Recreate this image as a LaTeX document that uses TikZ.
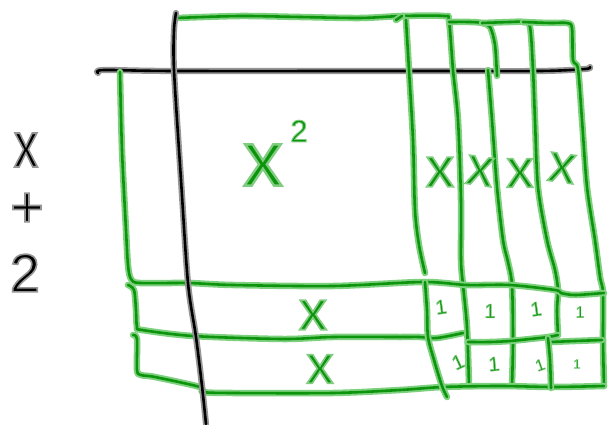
\documentclass[tikz,border=0pt]{standalone}
\usepackage{fontspec}
\setmainfont{Liberation Sans}
\newfontfamily\handfont{Liberation Sans}[FakeBold=3]
\newcommand{\ghtext}[1]{{\handfont\special{pdf:bcolor [0.05 0.58 0.05] [0.5 0.8 0.5]}#1\special{pdf:ecolor}}}
\newcommand{\khtext}[1]{{\handfont\special{pdf:bcolor [0 0 0] [0.58 0.58 0.58]}#1\special{pdf:ecolor}}}
\definecolor{gcore}{RGB}{12,148,12}
\definecolor{ghalo}{RGB}{125,208,125}
\definecolor{khalo}{RGB}{150,150,150}
\begin{document}
\begin{tikzpicture}[x=1pt,y=-1pt,
  gline/.style={draw=gcore,line width=2.6pt,line cap=round,line join=round,
    preaction={draw=ghalo,line width=6.5pt,line cap=round,line join=round}},
  kline/.style={draw=black,line width=2.6pt,line cap=round,line join=round,
    preaction={draw=khalo,line width=6.2pt,line cap=round,line join=round}},
  glab/.style={inner sep=0pt,text=gcore},
  klab/.style={inner sep=0pt,text=black}]
\fill[white] (0,0) rectangle (608,425);
\useasboundingbox (0,0) rectangle (608,425);

% black horizontal axis
\draw[kline] plot[smooth] coordinates {(98,73) (104,70) (175,71) (420,71) (540,71) (585,69) (590,67)};

% square top edge and line B
\draw[gline] plot[smooth,tension=0.5] coordinates {(176,18) (240,16) (300,17) (360,18) (402,16) (444,16) (449,21) (453,70) (458,120) (461,200) (461,260) (463,285) (467,327) (469,385)};
\draw[gline] (402,16) -- (396,20);
% line A
\draw[gline] plot[smooth] coordinates {(406,20) (409,70) (413,140) (415,210) (419,245) (425,273)};
% strip top 2 and line C upper
\draw[gline] plot[smooth,tension=0.5] coordinates {(449,22) (470,22) (482,23) (490,27) (495,45) (497,76)};
% line C lower
\draw[gline] plot[smooth] coordinates {(488,70) (492,120) (497,187) (503,240) (508,262) (512,285) (513,340) (512,386)};
% strip top 3 and line D
\draw[gline] plot[smooth,tension=0.5] coordinates {(482,23) (510,22) (523,22) (530,27) (533,70) (535,120) (538,187) (547,240) (555,270) (558,290) (557,310) (558,335)};
% strip top 4 and line E
\draw[gline] plot[smooth,tension=0.5] coordinates {(523,22) (550,23) (567,23) (572,28) (573,60) (578,69) (582,120) (587,187) (595,240) (600,277) (603,293) (603,340) (604,386)};

% left edge, square bottom, row 1 top
\draw[gline] plot[smooth,tension=0.5] coordinates {(120,72) (122,150) (126,230) (128,265) (131,279) (140,283) (188,283) (233,285) (333,286) (423,282) (467,285) (510,285) (555,290) (561,293) (575,295) (604,293)};
% row 1 left edge and middle line
\draw[gline] plot[smooth,tension=0.5] coordinates {(128,285) (134,290) (136,310) (137,327) (142,330) (193,336) (283,339) (333,337) (400,337) (420,337) (437,338) (463,333)};
% cells middle lines
\draw[gline] plot[smooth,tension=0.5] coordinates {(468,342) (490,342) (510,341) (530,339) (548,337) (558,335)};
\draw[gline] plot[smooth,tension=0.5] coordinates {(551,342) (575,341) (602,340)};
% row 2 left edge and bottom line
\draw[gline] plot[smooth,tension=0.5] coordinates {(133,335) (137,339) (137,370) (141,375) (155,377) (200,387) (203,392) (233,393) (333,393) (400,390) (443,387) (500,386) (553,387) (604,386)};
% divider between x rows and unit cells
\draw[gline] plot[smooth] coordinates {(425,282) (427,310) (428,337) (434,360) (442,386) (447,397)};
% lower cell vertical
\draw[gline] plot[smooth] coordinates {(548,338) (550,360) (551,388)};

% black vertical axis
\draw[kline] plot[smooth] coordinates {(176,13) (174,30) (174,70) (181,180) (188,283) (196,337) (202,386) (206,424)};

% left labels
\node[klab,font=\fontsize{64}{64}\selectfont,xscale=0.75] (lx) at (26,150) {\khtext{x}};
\node[klab,font=\fontsize{58}{58}\selectfont] (lplus) at (27,210) {\khtext{+}};
\node[klab,font=\fontsize{54}{54}\selectfont] (ltwo) at (25,273) {\khtext{2}};

% square label
\node[glab,font=\fontsize{78}{78}\selectfont] (xsq) at (263,165) {\ghtext{x}};
\node[glab,font=\fontsize{31}{31}\selectfont] (xsqexp) at (299,131) {\ghtext{2}};

% strip labels
\node[glab,font=\fontsize{56}{56}\selectfont] (sx1) at (440,172) {\ghtext{x}};
\node[glab,font=\fontsize{54}{54}\selectfont,rotate=-8] (sx2) at (480,171) {\ghtext{x}};
\node[glab,font=\fontsize{54}{54}\selectfont] (sx3) at (520,173) {\ghtext{x}};
\node[glab,font=\fontsize{54}{54}\selectfont,rotate=-8] (sx4) at (562,168) {\ghtext{x}};

% row labels
\node[glab,font=\fontsize{56}{56}\selectfont] (rx1) at (313,315) {\ghtext{x}};
\node[glab,font=\fontsize{54}{54}\selectfont] (rx2) at (320,369) {\ghtext{x}};

% unit cells
\node[glab,font=\fontsize{20}{20}\selectfont,rotate=8] (u11) at (441,307) {\ghtext{1}};
\node[glab,font=\fontsize{20}{20}\selectfont] (u12) at (490,311) {\ghtext{1}};
\node[glab,font=\fontsize{20}{20}\selectfont,rotate=8] (u13) at (536,309) {\ghtext{1}};
\node[glab,font=\fontsize{16}{16}\selectfont] (u14) at (580,312) {\ghtext{1}};
\node[glab,font=\fontsize{20}{20}\selectfont,rotate=25] (u21) at (458,362) {\ghtext{1}};
\node[glab,font=\fontsize{20}{20}\selectfont,rotate=5] (u22) at (494,364) {\ghtext{1}};
\node[glab,font=\fontsize{16}{16}\selectfont,rotate=20] (u23) at (540,365) {\ghtext{1}};
\node[glab,font=\fontsize{13}{13}\selectfont] (u24) at (577,364) {\ghtext{1}};
\end{tikzpicture}
\end{document}
